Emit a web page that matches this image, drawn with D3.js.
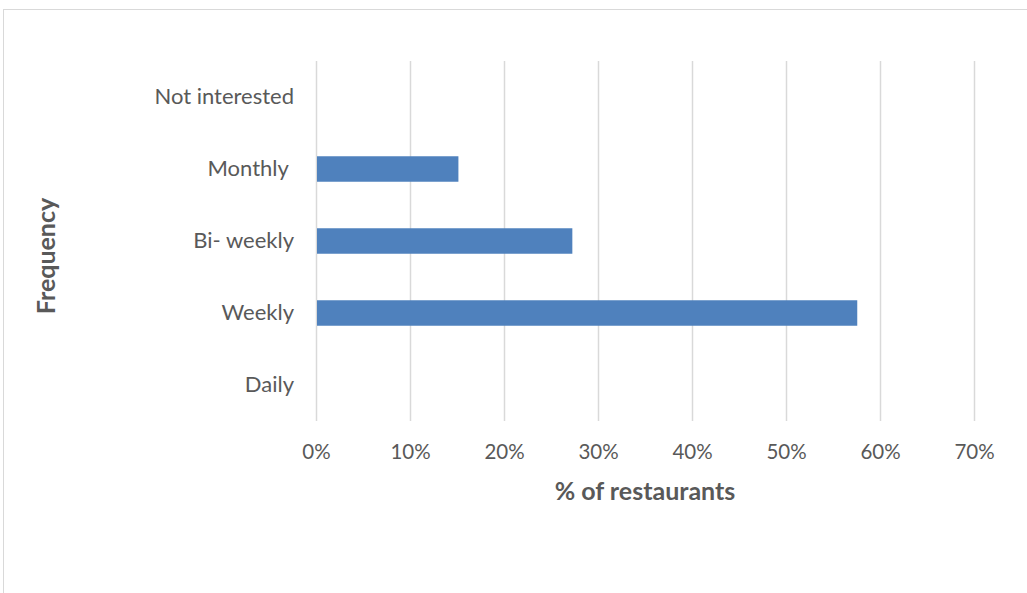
<!DOCTYPE html>
<html>
<head>
<meta charset="utf-8">
<script src="https://cdn.jsdelivr.net/npm/d3@7"></script>
<style>
  html, body { margin: 0; padding: 0; background: #fff; }
  svg { display: block; }
  text { font-family: Lato, "Open Sans", sans-serif; fill: #595959; white-space: pre; }
</style>
</head>
<body>
<svg id="chart" width="1027" height="593"></svg>
<script>
// Share of restaurants by frequency (bottom to top on the chart)
const categories = ["Daily", "Weekly", "Bi- weekly", "Monthly ", "Not interested"];
const shares = [0, 0.5758, 0.2727, 0.1515, 0];
const tickValues = [0, 0.1, 0.2, 0.3, 0.4, 0.5, 0.6, 0.7];
const xTitle = "% of restaurants";
const yTitle = "Frequency";

const svg = d3.select("#chart");
const W = 1027, H = 593;
const plot = { left: 316, right: 974, top: 61, bottom: 421 };

// chart frame
svg.append("rect")
  .attr("x", 3.5).attr("y", 9.5)
  .attr("width", W + 10).attr("height", H + 10)
  .attr("fill", "#fff").attr("stroke", "#d9d9d9").attr("stroke-width", 1);

const x = d3.scaleLinear().domain([0, 0.7]).range([plot.left, plot.right]);
const y = d3.scaleBand()
  .domain(categories)
  .range([plot.bottom, plot.top])
  .paddingInner(0.646)
  .paddingOuter(0.323);

// vertical gridlines
svg.append("g")
  .selectAll("line")
  .data(tickValues)
  .join("line")
  .attr("x1", d => Math.round(x(d)) + 0.5)
  .attr("x2", d => Math.round(x(d)) + 0.5)
  .attr("y1", plot.top)
  .attr("y2", plot.bottom)
  .attr("stroke", "#d9d9d9")
  .attr("stroke-width", 1.5);

// bars
svg.append("g")
  .selectAll("rect")
  .data(categories.map((c, i) => ({ c, v: shares[i] })).filter(d => d.v > 0))
  .join("rect")
  .attr("x", x(0) + 1)
  .attr("y", d => y(d.c))
  .attr("width", d => x(d.v) - x(0) - 1)
  .attr("height", y.bandwidth())
  .attr("fill", "#4f81bd");

// x axis tick labels
const xAxis = d3.axisBottom(x)
  .tickValues(tickValues)
  .tickFormat(d3.format(".0%"))
  .tickSize(0)
  .tickPadding(0);
const gx = svg.append("g")
  .attr("transform", `translate(0,${plot.bottom + 23})`)
  .call(xAxis);
gx.select(".domain").remove();
gx.selectAll("text")
  .attr("font-family", "Lato, 'Open Sans', sans-serif")
  .attr("font-size", 20.5)
  .attr("fill", "#595959")
  .attr("dy", "0.71em");

// y axis category labels
const yAxis = d3.axisLeft(y).tickSize(0).tickPadding(0);
const gy = svg.append("g")
  .attr("transform", `translate(${plot.left - 22},0)`)
  .call(yAxis);
gy.select(".domain").remove();
gy.selectAll("text")
  .attr("font-family", "Lato, 'Open Sans', sans-serif")
  .attr("font-size", 22)
  .attr("fill", "#595959");

// axis titles
svg.append("text")
  .attr("x", (plot.left + plot.right) / 2)
  .attr("y", 500)
  .attr("text-anchor", "middle")
  .attr("font-size", 25)
  .attr("font-weight", "bold")
  .text(xTitle);

svg.append("text")
  .attr("transform", `translate(55,256) rotate(-90)`)
  .attr("text-anchor", "middle")
  .attr("font-size", 25)
  .attr("font-weight", "bold")
  .text(yTitle);
</script>
</body>
</html>
